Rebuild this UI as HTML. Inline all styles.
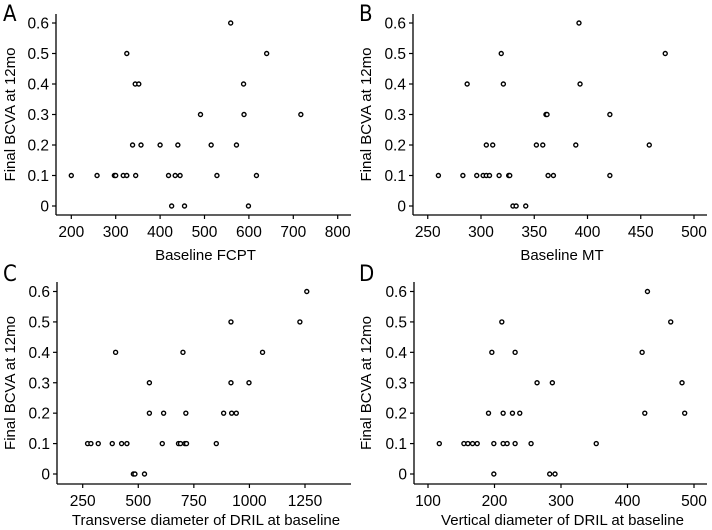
<!DOCTYPE html>
<html><head><meta charset="utf-8"><style>
body{margin:0;background:#fff;width:712px;height:530px;overflow:hidden}
svg{display:block;font-family:"Liberation Sans",Arial,sans-serif}
.lt{font-family:"DejaVu Sans Condensed","Liberation Sans Narrow","Liberation Sans",sans-serif}
</style></head><body>
<svg id="fig" width="712" height="530" viewBox="0 0 712 530"></svg>
<script>
const yTicks=[0,0.1,0.2,0.3,0.4,0.5,0.6];
const yTickLabels=["0","0.1","0.2","0.3","0.4","0.5","0.6"];
const aX=[200,258,297,300,317,325,345,419,434,445,528,617,426,455,599,338,357,400,440,515,572,491,589,717,344,352,588,325,640,559];
const aY=[0.1,0.1,0.1,0.1,0.1,0.1,0.1,0.1,0.1,0.1,0.1,0.1,0,0,0,0.2,0.2,0.2,0.2,0.2,0.2,0.3,0.3,0.3,0.4,0.4,0.4,0.5,0.5,0.6];
const aTicks=[200,300,400,500,600,700,800];
const bX=[260,283,296,302,305,308,317,326,327,363,368,421,330,333,342,305,311,352,358,389,458,361,362,421,287,321,393,319,473,392];
const bY=[0.1,0.1,0.1,0.1,0.1,0.1,0.1,0.1,0.1,0.1,0.1,0.1,0,0,0,0.2,0.2,0.2,0.2,0.2,0.2,0.3,0.3,0.3,0.4,0.4,0.4,0.5,0.5,0.6];
const bTicks=[250,300,350,400,450,500];
const cX=[272,287,320,383,425,449,608,681,690,710,717,851,478,485,528,550,614,714,884,920,941,550,917,998,398,701,1059,917,1227,1258];
const cY=[0.1,0.1,0.1,0.1,0.1,0.1,0.1,0.1,0.1,0.1,0.1,0.1,0,0,0,0.2,0.2,0.2,0.2,0.2,0.2,0.3,0.3,0.3,0.4,0.4,0.4,0.5,0.5,0.6];
const cTicks=[250,500,750,1000,1250];
const dX=[117,154,160,167,174,199,213,219,231,255,353,199,283,291,191,213,227,238,426,486,264,287,482,196,231,422,211,465,430];
const dY=[0.1,0.1,0.1,0.1,0.1,0.1,0.1,0.1,0.1,0.1,0.1,0,0,0,0.2,0.2,0.2,0.2,0.2,0.2,0.3,0.3,0.3,0.4,0.4,0.4,0.5,0.5,0.6];
const dTicks=[100,200,300,400,500];

const NS="http://www.w3.org/2000/svg";
const svg=document.getElementById('fig');
function mk(tag,attrs,parent){const e=document.createElementNS(NS,tag);for(const k in attrs)e.setAttribute(k,attrs[k]);(parent||svg).appendChild(e);return e;}

function panel(p){
  const g=mk('g',{});
  
  
  const sx=v=>p.px0+(v-p.v0)*(p.px1-p.px0)/(p.v1-p.v0);
  const sy=v=>p.y0-v*(p.y0-p.y6)/0.6;
  const L=mk('text',{x:p.ox+3,y:p.oy+21,'font-size':22,class:'lt'},g);L.textContent=p.id;
  
  
  const ya=mk('line',{x1:p.ax,y1:p.top,x2:p.ax,y2:p.xa,stroke:'#000','stroke-width':1.3},g);
  
  
  const xa=mk('line',{x1:p.ax,y1:p.xa,x2:p.right,y2:p.xa,stroke:'#000','stroke-width':1.3},g);
  
  
  yTicks.forEach((t,i)=>{
    const y=sy(t);
    mk('line',{x1:p.ax-4,y1:y,x2:p.ax,y2:y,stroke:'#000','stroke-width':1.2},g);
    const tx=mk('text',{x:p.ax-7,y:y+5.5,'font-size':15.5,'text-anchor':'end'},g);
    tx.textContent=yTickLabels[i];
    
    
  });
  p.ticks.forEach(t=>{
    const x=sx(t);
    mk('line',{x1:x,y1:p.xa,x2:x,y2:p.xa+4,stroke:'#000','stroke-width':1.2},g);
    const tx=mk('text',{x:x,y:p.xa+22,'font-size':15.5,'text-anchor':'middle'},g);
    tx.textContent=String(t);
    
    
  });
  const xt=mk('text',{x:(p.ax+p.right)/2+2,y:p.xtY,'font-size':15,'text-anchor':'middle'},g);
  xt.textContent=p.xTitle;
  
  
  const cy=(p.top+p.xa)/2;
  const yt=mk('text',{x:p.ox+15,y:cy,'font-size':15,'text-anchor':'middle',transform:`rotate(-90 ${p.ox+15} ${cy})`},g);
  yt.textContent='Final BCVA at 12mo';
  
  
  p.xs.forEach((v,i)=>{
    const c=mk('circle',{cx:sx(v),cy:sy(p.ys[i]),r:2,fill:'#fff',stroke:'#000','stroke-width':1.4},g);
    
    
  });
}
panel({id:'A',ox:0,oy:0,ax:56,top:14,xa:215,right:351,y0:206,y6:23,px0:71.3,px1:337.7,v0:200,v1:800,ticks:aTicks,xs:aX,ys:aY,xTitle:'Baseline FCPT',xtY:260});
panel({id:'B',ox:356,oy:0,ax:413,top:14,xa:215,right:707,y0:206,y6:23,px0:481,px1:694,v0:300,v1:500,ticks:bTicks,xs:bX,ys:bY,xTitle:'Baseline MT',xtY:260});
panel({id:'C',ox:0,oy:260,ax:57,top:282,xa:484,right:351,y0:474,y6:291.5,px0:82.7,px1:305,v0:250,v1:1250,ticks:cTicks,xs:cX,ys:cY,xTitle:'Transverse diameter of DRIL at baseline',xtY:525});
panel({id:'D',ox:356,oy:260,ax:414,top:282,xa:484,right:707,y0:474,y6:291.5,px0:428,px1:694,v0:100,v1:500,ticks:dTicks,xs:dX,ys:dY,xTitle:'Vertical diameter of DRIL at baseline',xtY:525});
</script>
</body></html>
